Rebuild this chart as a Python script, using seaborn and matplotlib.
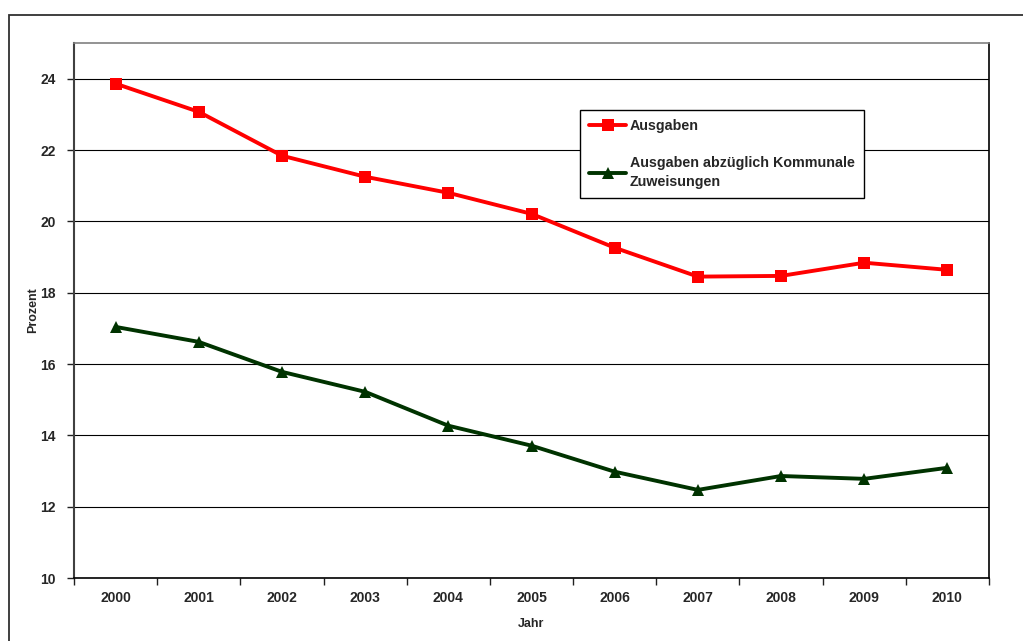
import matplotlib
matplotlib.use("Agg")
import matplotlib.pyplot as plt
from matplotlib.patches import Rectangle
from matplotlib.ticker import FixedLocator
import seaborn as sns
import pandas as pd

years = ["2000", "2001", "2002", "2003", "2004", "2005",
         "2006", "2007", "2008", "2009", "2010"]
ausgaben = [23.86, 23.07, 21.84, 21.25, 20.80, 20.21,
            19.26, 18.45, 18.47, 18.84, 18.64]
ausgaben_ohne_kommunal = [17.04, 16.62, 15.78, 15.22, 14.27, 13.71,
                          12.98, 12.47, 12.86, 12.78, 13.09]
series_names = ["Ausgaben", "Ausgaben abzüglich Kommunale\nZuweisungen"]
yticks = [10, 12, 14, 16, 18, 20, 22, 24]

sns.set_theme(style="white")
plt.rcParams["font.family"] = ["Liberation Sans", "DejaVu Sans"]

df = pd.DataFrame({
    "Jahr": years * 2,
    "Prozent": ausgaben + ausgaben_ohne_kommunal,
    "Reihe": [series_names[0]] * len(years) + [series_names[1]] * len(years),
})

fig = plt.figure(figsize=(10.23, 6.41), dpi=100)
ax = fig.add_axes([74 / 1023, 1 - 578 / 641, 915 / 1023, (578 - 43) / 641])

# outer chart frame
fig.patches.append(Rectangle((9 / 1023, -0.05), 1.2, 1 - 15 / 641 + 0.05,
                             transform=fig.transFigure, fill=False,
                             edgecolor="#303030", linewidth=1.3))

palette = {series_names[0]: "#FF0000", series_names[1]: "#003300"}
markers = {series_names[0]: "s", series_names[1]: "^"}
sns.lineplot(data=df, x="Jahr", y="Prozent", hue="Reihe", style="Reihe",
             palette=palette, markers=markers, dashes=False, sort=False,
             linewidth=2.8, markersize=8, markeredgewidth=0, ax=ax)

ax.set_xlim(-0.5, len(years) - 0.5)
ax.set_ylim(10, 25)
ax.set_yticks(yticks)
ax.set_yticklabels([str(v) for v in yticks], fontsize=10, fontweight="bold")
ax.set_xticks(range(len(years)))
ax.set_xticklabels(years, fontsize=10, fontweight="bold")
ax.xaxis.set_minor_locator(FixedLocator([i - 0.5 for i in range(len(years) + 1)]))
ax.tick_params(axis="x", which="major", length=0, pad=9)
ax.tick_params(axis="x", which="minor", length=5, width=1, color="#202020",
               direction="out", bottom=True)
ax.tick_params(axis="y", which="major", length=5, width=1, color="#202020",
               direction="out", left=True, pad=8)

ax.yaxis.grid(True, color="#000000", linewidth=0.8)
ax.xaxis.grid(False)
ax.set_axisbelow(True)

for side in ["top", "right"]:
    ax.spines[side].set_color("#808080")
    ax.spines[side].set_linewidth(1.2)
ax.spines["right"].set_color("#000000")
ax.spines["left"].set_color("#404040")
ax.spines["left"].set_linewidth(1.5)
ax.spines["bottom"].set_color("#000000")
ax.spines["bottom"].set_linewidth(1.2)

ax.set_xlabel("Jahr", fontsize=9, fontweight="bold", labelpad=10)
ax.set_ylabel("Prozent", fontsize=9, fontweight="bold", labelpad=1)

leg = ax.legend(loc="upper left", bbox_to_anchor=(506 / 915, (578 - 110) / 535),
                prop={"size": 10.3, "weight": "bold"}, frameon=True,
                fancybox=False, edgecolor="#000000",
                borderpad=0.65, labelspacing=1.6, handlelength=2.6,
                handletextpad=0.25, borderaxespad=0)
for text in leg.get_texts():
    text.set_linespacing(1.4)
leg.get_frame().set_linewidth(1.0)
leg.get_frame().set_alpha(1)

fig.savefig("out.png", dpi=100)
